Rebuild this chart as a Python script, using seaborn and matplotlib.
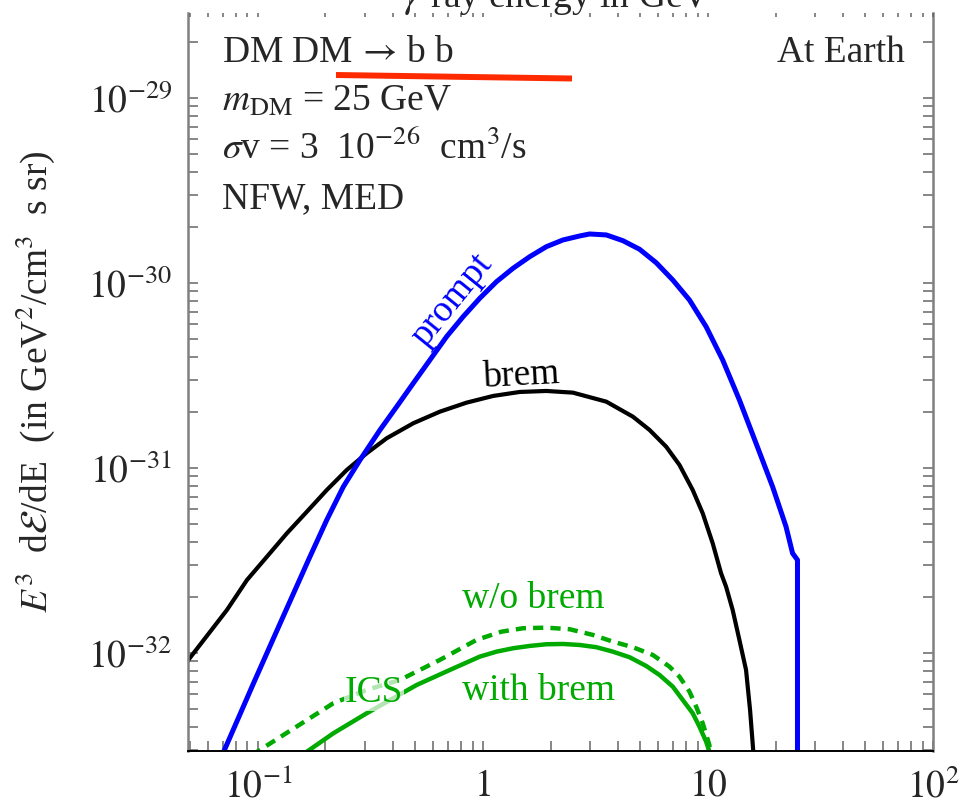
import numpy as np
import pandas as pd
import matplotlib
matplotlib.use("Agg")
import matplotlib.pyplot as plt
import seaborn as sns
from matplotlib.lines import Line2D
from matplotlib.ticker import LogLocator, FixedLocator, FixedFormatter, NullFormatter

# Gamma-ray spectra at Earth, E^3 dE/dE in GeV^2/(cm^3 s sr), vs gamma energy in GeV
prompt_E = [0.0695, 0.0958, 0.1258, 0.1680, 0.2027, 0.2401, 0.2848, 0.3493, 0.4144,
            0.4909, 0.5821, 0.6903, 0.8177, 0.9698, 1.150, 1.363, 1.616, 1.916,
            2.270, 2.693, 2.982, 3.537, 4.19, 4.97, 5.89, 6.98, 8.28, 9.82, 11.63,
            13.80, 16.36, 19.38, 22.23, 23.77, 25.0, 25.0]
prompt_flux = [2.8e-33, 6.86e-33, 1.447e-32, 3.18e-32, 5.24e-32, 7.92e-32, 1.105e-31,
               1.605e-31, 2.145e-31, 2.87e-31, 3.835e-31, 5.125e-31, 6.575e-31,
               8.27e-31, 1.016e-30, 1.201e-30, 1.387e-30, 1.571e-30, 1.708e-30,
               1.795e-30, 1.84e-30, 1.818e-30, 1.693e-30, 1.521e-30, 1.287e-30,
               1.038e-30, 8.09e-31, 5.80e-31, 3.835e-31, 2.332e-31, 1.36e-31,
               7.92e-32, 4.82e-32, 3.46e-32, 3.18e-32, 1e-34]

brem_E = [0.0485, 0.0730, 0.0896, 0.1099, 0.1348, 0.1653, 0.2027, 0.2486, 0.3050,
          0.3740, 0.4909, 0.6446, 0.8466, 1.111, 1.459, 1.916, 2.514, 3.537, 4.64,
          5.503, 6.525, 7.475, 8.56, 9.48, 10.50, 11.44, 12.04, 12.88, 13.80,
          14.77, 15.39, 15.91, 15.98]
brem_flux = [8.97e-33, 1.708e-32, 2.48e-32, 3.315e-32, 4.436e-32, 5.80e-32, 7.60e-32,
             9.75e-32, 1.201e-31, 1.447e-31, 1.744e-31, 2.015e-31, 2.254e-31,
             2.45e-31, 2.575e-31, 2.607e-31, 2.553e-31, 2.282e-31, 1.894e-31,
             1.605e-31, 1.303e-31, 1.038e-31, 7.60e-32, 5.69e-32, 3.917e-32,
             2.696e-32, 2.282e-32, 1.708e-32, 1.176e-32, 8.09e-33, 4.92e-33,
             2.93e-33, 2.6e-33]

ics_brem_E = [0.157, 0.2169, 0.3050, 0.5082, 0.7138, 0.9698, 1.150, 1.363, 1.616,
              1.916, 2.270, 2.693, 3.193, 3.783, 4.486, 5.32, 6.095, 6.98, 7.73,
              8.56, 9.17, 9.82, 10.15, 10.2]
ics_brem_flux = [2.8e-33, 3.68e-33, 4.72e-33, 6.71e-33, 8.09e-33, 9.55e-33, 1.016e-32,
                 1.06e-32, 1.091e-32, 1.114e-32, 1.118e-32, 1.104e-32, 1.074e-32,
                 1.016e-32, 9.48e-33, 8.50e-33, 7.60e-33, 6.575e-33, 5.57e-33,
                 4.72e-33, 3.996e-33, 3.315e-33, 2.93e-33, 2.7e-33]

ics_nobrem_E = [0.094, 0.2169, 0.3050, 0.4284, 0.6446, 0.9378, 1.210, 1.509, 1.916,
                2.431, 3.084, 3.783, 4.64, 5.69, 6.75, 7.475, 8.28, 8.87, 9.48,
                10.15, 10.25]
ics_nobrem_flux = [2.8e-33, 5.35e-33, 6.31e-33, 7.145e-33, 9.17e-33, 1.176e-32,
                   1.303e-32, 1.36e-32, 1.37e-32, 1.343e-32, 1.251e-32, 1.151e-32,
                   1.074e-32, 9.75e-33, 8.43e-33, 7.44e-33, 6.18e-33, 5.125e-33,
                   4.17e-33, 3.18e-33, 2.7e-33]

x_ticks = [0.1, 1, 10, 100]
x_tick_labels = [r"$10^{-1}$", r"$1$", r"$10$", r"$10^{2}$"]
y_ticks = [1e-32, 1e-31, 1e-30, 1e-29]
y_tick_labels = [r"$10^{-32}$", r"$10^{-31}$", r"$10^{-30}$", r"$10^{-29}$"]

sns.set_style("white")
plt.rcParams["font.family"] = ["Liberation Serif", "DejaVu Serif"]
plt.rcParams["mathtext.fontset"] = "stix"
FS = 27
GREEN = "#00aa00"
BLUE = "#0000ff"

W, H = 963, 808
fig = plt.figure(figsize=(W / 100, H / 100), dpi=100)
ax = fig.add_axes([188 / W, 57 / H, 745 / W, 738 / H])
ax.set_xscale("log")
ax.set_yscale("log")

curves = [
    (ics_nobrem_E, ics_nobrem_flux, dict(color=GREEN, lw=3.2, linestyle=(0, (2.3, 1.6)))),
    (ics_brem_E, ics_brem_flux, dict(color=GREEN, lw=3.2)),
    (brem_E, brem_flux, dict(color="black", lw=3.0)),
    (prompt_E, prompt_flux, dict(color=BLUE, lw=3.6)),
]
for E, flux, style in curves:
    df = pd.DataFrame({"E": E, "flux": flux})
    sns.lineplot(data=df, x="E", y="flux", ax=ax, sort=False, estimator=None, **style)

ax.set_xlim(0.049, 100)
ax.set_ylim(2.95e-33, 2.88e-29)

# ticks
ax.xaxis.set_major_locator(FixedLocator(x_ticks))
ax.xaxis.set_major_formatter(FixedFormatter(x_tick_labels))
ax.xaxis.set_minor_locator(LogLocator(base=10, subs=np.arange(2, 10)))
ax.xaxis.set_minor_formatter(NullFormatter())
ax.yaxis.set_major_locator(FixedLocator(y_ticks))
ax.yaxis.set_major_formatter(FixedFormatter(y_tick_labels))
ax.yaxis.set_minor_locator(LogLocator(base=10, subs=np.arange(2, 10)))
ax.yaxis.set_minor_formatter(NullFormatter())

ax.tick_params(axis="both", which="both", direction="in", length=7.2, width=1.1,
               color="#666666", labelsize=FS, top=False)
ax.tick_params(axis="y", which="both", left=True, right=True, pad=11.5)
ax.tick_params(axis="x", which="both", bottom=True, pad=13)

ax.spines["top"].set_visible(False)
for side in ("left", "right"):
    ax.spines[side].set_color("#808080")
    ax.spines[side].set_linewidth(1.8)
ax.spines["bottom"].set_color("black")
ax.spines["bottom"].set_linewidth(1.4)

# short ticks along the top edge
ax_top = ax.twiny()
ax_top.set_xscale("log")
ax_top.set_xlim(ax.get_xlim())
ax_top.xaxis.set_major_locator(FixedLocator(x_ticks))
ax_top.xaxis.set_minor_locator(LogLocator(base=10, subs=np.arange(2, 10)))
ax_top.xaxis.set_major_formatter(NullFormatter())
ax_top.xaxis.set_minor_formatter(NullFormatter())
ax_top.tick_params(axis="x", which="both", direction="in", length=3, width=1.1,
                   color="#666666", top=True, bottom=False, labeltop=False,
                   labelbottom=False)
for s in ax_top.spines.values():
    s.set_visible(False)

# axis labels
ax.set_xlabel("")
ax.set_ylabel(r"$E^3$  d$\mathcal{E}$/dE  (in GeV$^2$/cm$^3$  s sr)", fontsize=FS)
ax.yaxis.set_label_coords(-0.176, 0.5)
fig.text(557 / W, 1 - 7 / H, r"$\gamma$-ray energy in GeV", fontsize=FS,
         ha="center", va="baseline")

# model annotations
tx = 0.0456
ax.text(tx, 0.9336, r"DM DM$\,{\rightarrow}\,$b b", transform=ax.transAxes,
        fontsize=FS, va="baseline", ha="left")
ax.text(tx, 0.8672, r"$m_{\mathrm{DM}}$ = 25 GeV", transform=ax.transAxes,
        fontsize=FS, va="baseline", ha="left")
ax.text(tx, 0.8022, r"$\sigma$v = 3  10$^{-26}$  cm$^3$/s", transform=ax.transAxes,
        fontsize=FS, va="baseline", ha="left")
ax.text(tx, 0.7358, "NFW, MED", transform=ax.transAxes, fontsize=FS,
        va="baseline", ha="left")
ax.text(0.9624, 0.9336, "At Earth", transform=ax.transAxes, fontsize=FS,
        va="baseline", ha="right")

fig.add_artist(Line2D([336 / W, 572 / W], [1 - 75 / H, 1 - 78.5 / H],
                      transform=fig.transFigure, color="#ff2a00", lw=4.3,
                      solid_capstyle="butt"))

# curve labels
ax.text(0.3544, 0.6111, "prompt", transform=ax.transAxes, fontsize=FS, color=BLUE,
        rotation=51, ha="center", va="center", rotation_mode="anchor")
ax.text(0.4483, 0.4959, "brem", transform=ax.transAxes, fontsize=FS, color="black",
        rotation=3, ha="center", va="baseline", rotation_mode="anchor")
ax.text(0.3678, 0.1938, "w/o brem", transform=ax.transAxes, fontsize=FS, color=GREEN,
        ha="left", va="baseline")
ax.text(0.3678, 0.0691, "with brem", transform=ax.transAxes, fontsize=FS, color=GREEN,
        ha="left", va="baseline")
ax.text(0.2107, 0.0664, "ICS", transform=ax.transAxes, fontsize=FS, color=GREEN,
        ha="left", va="baseline", zorder=5,
        bbox=dict(facecolor="white", alpha=0.7, edgecolor="none", pad=0.5))

fig.savefig("out.png", dpi=100)
